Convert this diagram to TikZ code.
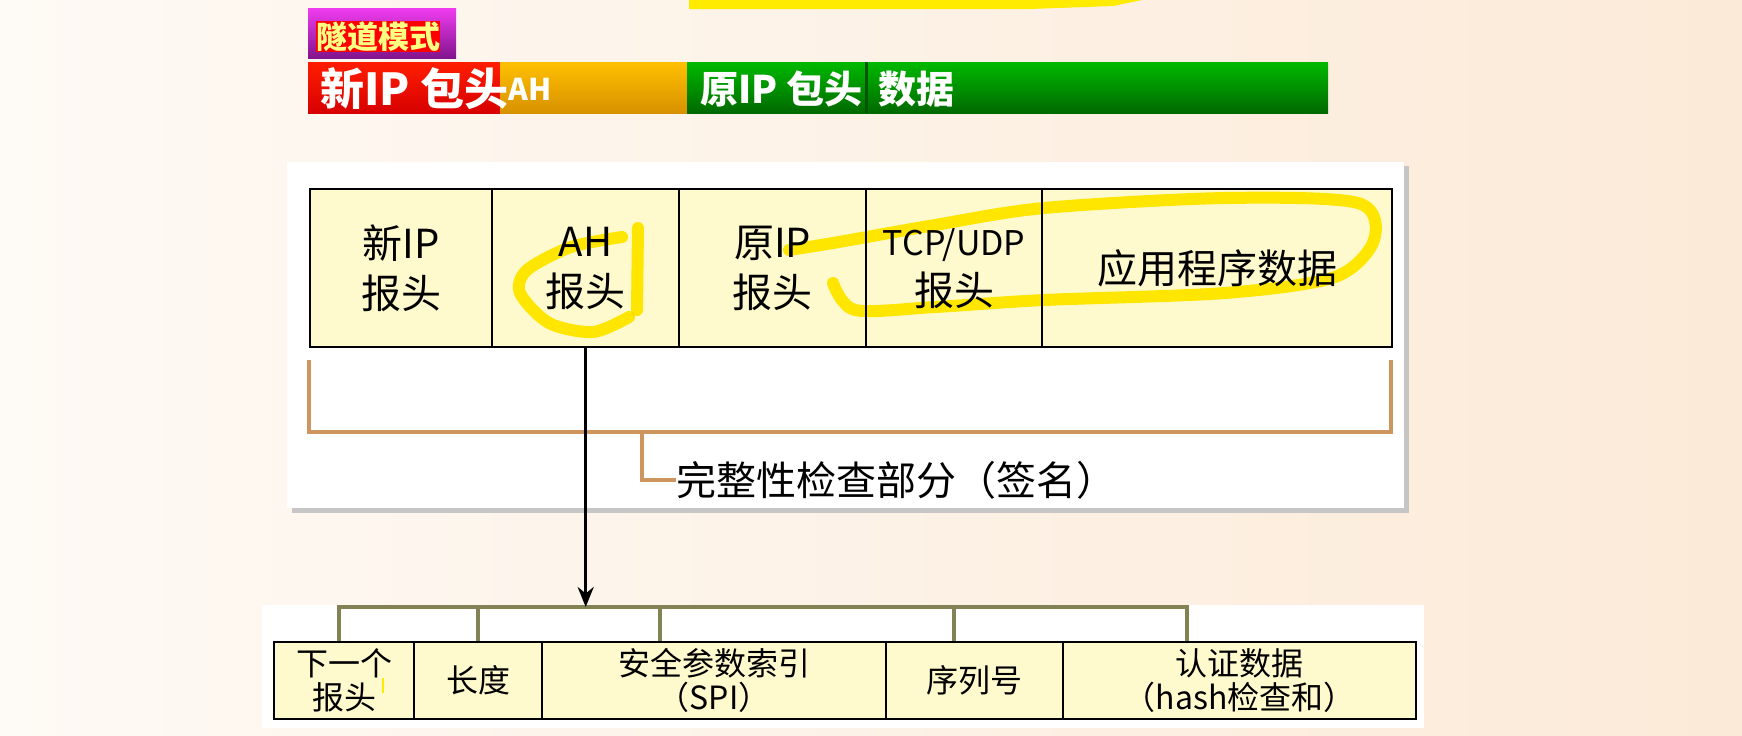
\documentclass[tikz,border=0pt]{standalone}
\usepackage{fontspec}
\newfontfamily\cjk{Noto Sans CJK SC}
\usetikzlibrary{arrows.meta}
\definecolor{bgleft}{RGB}{254,250,245}
\definecolor{bgright}{RGB}{252,234,216}
\definecolor{cellyellow}{RGB}{255,250,205}
\definecolor{hiyellow}{RGB}{255,235,0}
\definecolor{bracketbrown}{RGB}{205,150,95}
\definecolor{busolive}{RGB}{130,130,85}
\definecolor{tunneltop}{RGB}{240,60,240}
\definecolor{tunnelbot}{RGB}{130,20,140}
\definecolor{tunneltxt}{RGB}{255,255,130}
\definecolor{redtop}{RGB}{255,30,0}
\definecolor{redbot}{RGB}{215,0,0}
\definecolor{ahtop}{RGB}{255,192,0}
\definecolor{ahbot}{RGB}{215,145,0}
\definecolor{greentop}{RGB}{0,185,0}
\definecolor{greenbot}{RGB}{0,105,0}
\definecolor{greendiv}{RGB}{0,85,0}

\begin{document}
\begin{tikzpicture}[x=0.5pt, y=-0.5pt,
    cell/.style={draw=black, line width=1.2pt, fill=cellyellow, anchor=north west,
      inner sep=0pt, align=center, minimum height=79pt,
      font=\cjk\fontsize{20}{25}\selectfont},
    subcell/.style={cell, minimum height=38.5pt, font=\cjk\fontsize{16}{17}\selectfont},
    bartext/.style={anchor=west, inner sep=0pt, text=white, font=\cjk\bfseries},
    hilite/.style={draw=hiyellow, line width=6pt, line cap=round, line join=round},
    bracket/.style={draw=bracketbrown, line width=2pt},
    bus/.style={draw=busolive, line width=2pt}]
  \useasboundingbox (0,0) rectangle (1742,735);
  \shade[left color=bgleft, right color=bgright] (0,0) rectangle (1742,735);
  \fill[hiyellow] (689,0) -- (689,9) -- (1030,9) -- (1113,6) -- (1142,0) -- cycle;

  % tunnel mode title and packet bar
  \shade[top color=tunneltop, bottom color=tunnelbot] (308,8) rectangle (456,58);
  \node[fill=red, minimum width=61pt, minimum height=14pt, inner sep=0pt,
    text=tunneltxt, font=\cjk\bfseries\fontsize{15.5}{16}\selectfont] (mode) at (378,36.5) {隧道模式};
  \shade[top color=redtop, bottom color=redbot] (308,62) rectangle (500,113);
  \shade[top color=ahtop, bottom color=ahbot] (500,62) rectangle (687,113);
  \shade[top color=greentop, bottom color=greenbot] (687,62) rectangle (1328,113);
  \draw[line width=1.5pt, greendiv] (866,62) -- (866,113);
  \node[bartext, font=\cjk\bfseries\fontsize{22}{24}\selectfont] (newhdr) at (320,89) {新IP 包头};
  \node[bartext, font=\cjk\bfseries\fontsize{15}{16}\selectfont] (ahtag) at (newhdr.east) {AH};
  \node[bartext, font=\cjk\bfseries\fontsize{19}{20}\selectfont] (oldhdr) at (700,89) {原IP 包头};
  \node[bartext, font=\cjk\bfseries\fontsize{19}{20}\selectfont] (payload) at (878,89) {数据};

  % AH packet panel
  \fill[gray!45] (292,166) rectangle (1409,513);
  \fill[white] (287,162) rectangle (1404,508);
  \node[cell, minimum width=91pt] (newip) at (309,188) {新IP\\报头};
  \node[cell, minimum width=93.5pt] (ahhdr) at (491,188) {AH\\报头};
  \node[cell, minimum width=93.5pt] (oldip) at (678,188) {原IP\\报头};
  \node[cell, minimum width=88pt] (tcphdr) at (865,188) {{\fontsize{17}{25}\selectfont TCP/UDP}\\报头};
  \node[cell, minimum width=175pt] (appdata) at (1041,188) {应用程序数据};
  \begin{scope}[blend mode=multiply]
    \draw[hilite] (638,228) -- (637,310);
    \draw[hilite] plot[smooth] coordinates {(622,237) (571,247) (527,270) (520,293)
      (549,323) (593,332) (629,317)};
    \draw[hilite] plot[smooth] coordinates {(833,283) (855,310) (935,307) (1044,300)
      (1225,293) (1335,277) (1374,240) (1358,203) (1225,198) (1044,208) (935,225)
      (833,243) (789,250)};
  \end{scope}
  \draw[bracket] (309,360) |- (1391,432) -- (1391,360);
  \coordinate (brk) at (642,432);
  \node[anchor=west, inner sep=0pt, font=\cjk\fontsize{20}{22}\selectfont] (sigtxt) at (676,480) {完整性检查部分（签名）};
  \draw[bracket] (brk) |- (sigtxt.west);

  % AH header fields
  \fill[white] (262,605) rectangle (1424,728);
  \node[subcell, minimum width=70pt] (nexthdr) at (273,641) {下一个\\报头};
  \node[subcell, minimum width=64pt] (paylen) at (413,641) {长度};
  \node[subcell, minimum width=172pt] (spi) at (541,641) {安全参数索引\\（SPI）};
  \node[subcell, minimum width=88.5pt] (seqno) at (885,641) {序列号};
  \node[subcell, minimum width=176.5pt] (authdata) at (1062,641) {认证数据\\（hash检查和）};
  \draw[hiyellow, line width=1pt] (383,678) -- (383,693);
  \coordinate (busl) at (339,607);
  \coordinate (busr) at (1187,607);
  \coordinate (bus2) at (660,607);
  \coordinate (bus3) at (954,607);
  \draw[bus] (busl |- nexthdr.north) -- (busl) -- (busr) -- (busr |- authdata.north);
  \draw[bus] (paylen.north) -- (paylen.north |- busl);
  \draw[bus] (bus2) -- (bus2 |- spi.north);
  \draw[bus] (bus3) -- (bus3 |- seqno.north);
  \draw[line width=1.5pt, -{Stealth[length=10pt, width=8pt]}] (ahhdr.south) -- (ahhdr.south |- busl);
\end{tikzpicture}
\end{document}
